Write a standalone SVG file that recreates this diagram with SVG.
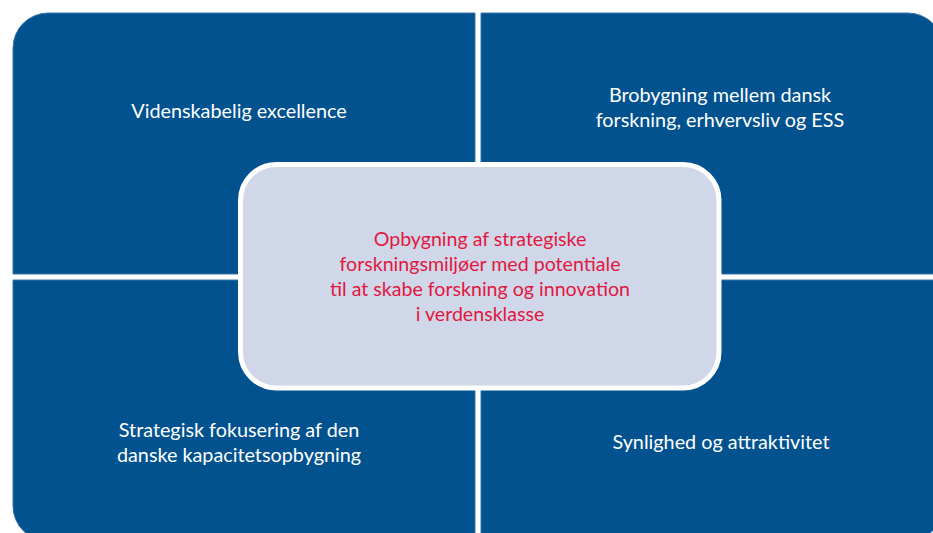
<svg xmlns="http://www.w3.org/2000/svg" width="933" height="533" viewBox="0 0 933 533">
<style>
.q{fill:#01528F;stroke:#3F74AA;stroke-width:1}
.t{font-family:Lato,"Open Sans","Liberation Sans",sans-serif;font-size:19.8px;fill:#FFFFFF;text-anchor:middle}
.c{font-family:Lato,"Open Sans","Liberation Sans",sans-serif;font-size:19.6px;fill:#E2173F;text-anchor:middle}
</style>
<rect width="933" height="533" fill="#FFFFFF"/>
<g id="q-top-left">
<path class="q" d="M13,274 V48 A35,35 0 0 1 48,13 H475 V274 Z"/>
<text class="t" x="239" y="118">Videnskabelig excellence</text>
</g>
<g id="q-top-right">
<path class="q" d="M481,13 H908 A35,35 0 0 1 943,48 V274 H481 Z"/>
<text class="t" x="720" y="102">Brobygning mellem dansk</text>
<text class="t" x="720" y="127">forskning, erhvervsliv og ESS</text>
</g>
<g id="q-bottom-left">
<path class="q" d="M13,280 H475 V541 H48 A35,35 0 0 1 13,506 Z"/>
<text class="t" x="239" y="437">Strategisk fokusering af den</text>
<text class="t" x="239" y="462">danske kapacitetsopbygning</text>
</g>
<g id="q-bottom-right">
<path class="q" d="M481,280 H943 V506 A35,35 0 0 1 908,541 H481 Z"/>
<text class="t" x="721" y="449">Synlighed og attraktivitet</text>
</g>
<g id="center">
<rect x="240.5" y="164.5" width="478.5" height="223.5" rx="36" ry="36" fill="#D0D7E9" stroke="#FFFFFF" stroke-width="5"/>
<text class="c" x="480" y="246">Opbygning af strategiske</text>
<text class="c" x="480" y="271">forskningsmiljøer med potentiale</text>
<text class="c" x="480" y="296">til at skabe forskning og innovation</text>
<text class="c" x="480" y="321">i verdensklasse</text>
</g>
<g id="connectors"></g>
</svg>
